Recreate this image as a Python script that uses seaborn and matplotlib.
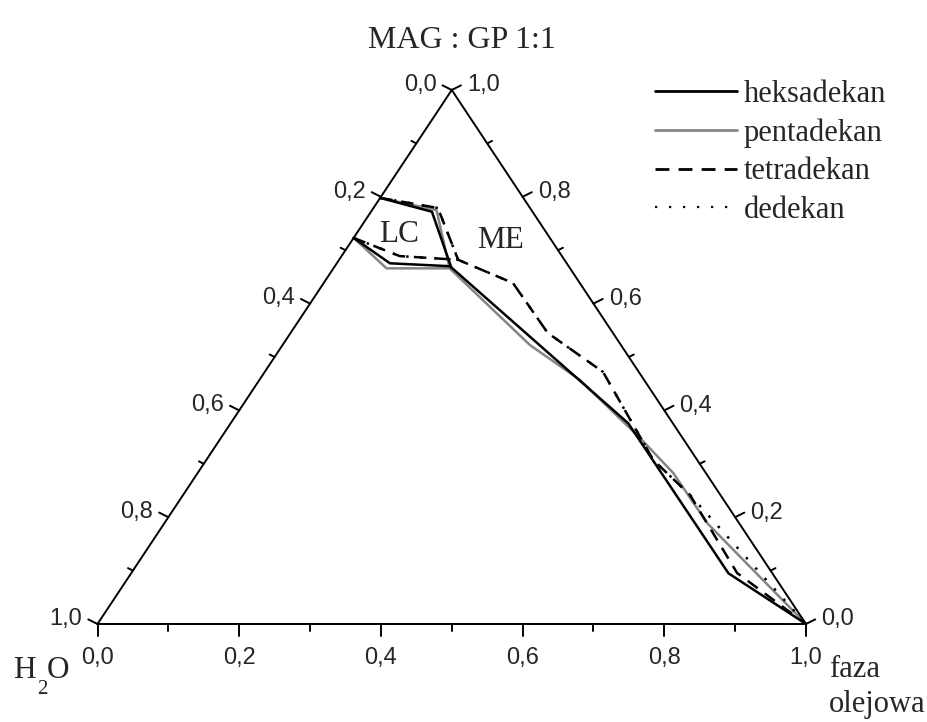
import numpy as np
import pandas as pd
import matplotlib
matplotlib.use("Agg")
import matplotlib.pyplot as plt
from matplotlib.lines import Line2D
import seaborn as sns

# ---------------- data (ternary: oil fraction, surfactant MAG:GP fraction; water = rest)
series_order = ["heksadekan", "pentadekan", "tetradekan", "dedekan"]

hex_lc_oil = [0.0, 0.086, 0.166]
hex_lc_surf = [0.798, 0.772, 0.667]
hex_me_oil = [0.0, 0.075, 0.1625, 0.561, 0.843, 1.0]
hex_me_surf = [0.723, 0.6755, 0.670, 0.376, 0.095, 0.0]

pen_lc_oil = [0.0, 0.091, 0.164]
pen_lc_surf = [0.798, 0.775, 0.666]
pen_me_oil = [0.0, 0.075, 0.164, 0.349, 0.4525, 0.592, 0.671, 0.766, 1.0]
pen_me_surf = [0.723, 0.666, 0.666, 0.5225, 0.457, 0.348, 0.283, 0.189, 0.0]

tet_lc_oil = [0.0, 0.091, 0.168]
tet_lc_surf = [0.798, 0.779, 0.682]
tet_me_oil = [0.0, 0.082, 0.168, 0.267, 0.363, 0.4775, 0.631, 0.7155, 0.855, 1.0]
tet_me_surf = [0.723, 0.689, 0.682, 0.6386, 0.545, 0.472, 0.307, 0.2416, 0.0955, 0.0]

ded_lc_oil = [0.0, 0.091, 0.168]
ded_lc_surf = [0.798, 0.779, 0.682]
ded_me_oil = [0.0, 0.082, 0.168, 0.267, 0.363, 0.4775, 0.631, 0.7155, 1.0]
ded_me_surf = [0.723, 0.689, 0.682, 0.6386, 0.545, 0.472, 0.307, 0.2416, 0.0]

tick_values = [0.0, 0.1, 0.2, 0.3, 0.4, 0.5, 0.6, 0.7, 0.8, 0.9, 1.0]
major_values = [0.0, 0.2, 0.4, 0.6, 0.8, 1.0]
major_labels = ["0,0", "0,2", "0,4", "0,6", "0,8", "1,0"]

title_text = "MAG : GP 1:1"

# ---------------- setup
sns.set_style("white")
plt.rcParams["font.family"] = ["Liberation Sans", "DejaVu Sans"]
SERIF = ["Liberation Serif", "DejaVu Serif"]

W, Hpx = 927, 722
fig = plt.figure(figsize=(W / 100, Hpx / 100), dpi=100)
ax = fig.add_axes([97.5 / W, 98 / Hpx, 708.5 / W, 534 / Hpx])
H = np.sqrt(3) / 2
LW = 1.8


def to_xy(oil, surf):
    oil = np.asarray(oil, float)
    surf = np.asarray(surf, float)
    return oil + surf / 2, surf * H


curves = {
    "heksadekan": [(hex_lc_oil, hex_lc_surf), (hex_me_oil, hex_me_surf)],
    "pentadekan": [(pen_lc_oil, pen_lc_surf), (pen_me_oil, pen_me_surf)],
    "tetradekan": [(tet_lc_oil, tet_lc_surf), (tet_me_oil, tet_me_surf)],
    "dedekan": [(ded_lc_oil, ded_lc_surf), (ded_me_oil, ded_me_surf)],
}
rows = []
for name, branches in curves.items():
    for bi, (o, s) in enumerate(branches):
        X, Y = to_xy(o, s)
        for k, (x, y) in enumerate(zip(X, Y)):
            rows.append({"seria": name, "odcinek": f"{name}-{bi}", "X": x, "Y": y, "k": k})
df = pd.DataFrame(rows)

palette = {"heksadekan": "black", "pentadekan": "#858585",
           "tetradekan": "black", "dedekan": "black"}
dash_map = {"heksadekan": "", "pentadekan": "", "tetradekan": (5, 3.5), "dedekan": (1, 4.6)}
draw_order = ["pentadekan", "heksadekan", "tetradekan", "dedekan"]

sns.lineplot(data=df, x="X", y="Y", hue="seria", style="seria", units="odcinek",
             estimator=None, sort=False, palette=palette, dashes=dash_map,
             hue_order=draw_order, style_order=draw_order, linewidth=LW,
             legend=False, ax=ax)
for ln in ax.lines:
    ln.set_clip_on(False)

# ---------------- triangle frame
ax.plot([0, 1, 0.5, 0], [0, 0, H, 0], color="black", lw=1.4, clip_on=False,
        solid_joinstyle="miter")

n_left = np.array([-np.sqrt(3) / 2, 0.5])
n_right = np.array([np.sqrt(3) / 2, 0.5])
Lmaj, Lmin = 0.015, 0.008
Bmaj, Bmin = 12 * H / 534, 7 * H / 534
pt = 0.72

for v in tick_values:
    is_major = any(abs(v - m) < 1e-9 for m in major_values)
    bl = Bmaj if is_major else Bmin
    ax.plot([v, v], [0, -bl], color="black", lw=1.4, clip_on=False)
    s = 1 - v
    p = np.array([s / 2, s * H])
    L = Lmaj if is_major else Lmin
    e = p + n_left * L
    ax.plot([p[0], e[0]], [p[1], e[1]], color="black", lw=1.4, clip_on=False)
    q = np.array([1 - v / 2, v * H])
    e2 = q + n_right * L
    ax.plot([q[0], e2[0]], [q[1], e2[1]], color="black", lw=1.4, clip_on=False)

TFS = 17
for v, lab in zip(major_values, major_labels):
    ax.annotate(lab, xy=(v, -Bmaj), xytext=(0, -28 * pt), textcoords="offset points",
                ha="center", va="baseline", fontsize=TFS, annotation_clip=False)
    s = 1 - v
    e = np.array([s / 2, s * H]) + n_left * Lmaj
    ax.annotate(lab, xy=tuple(e), xytext=(-6 * pt, -5.5 * pt), textcoords="offset points",
                ha="right", va="baseline", fontsize=TFS, annotation_clip=False)
    e2 = np.array([1 - v / 2, v * H]) + n_right * Lmaj
    ax.annotate(lab, xy=tuple(e2), xytext=(6 * pt, -6 * pt), textcoords="offset points",
                ha="left", va="baseline", fontsize=TFS, annotation_clip=False)

ax.set_xlim(0, 1)
ax.set_ylim(0, H)
ax.set_axis_off()

# ---------------- texts
def fy(y):
    return 1 - y / Hpx

fig.text(462 / W, fy(48), title_text, ha="center", va="baseline", fontsize=23, family=SERIF)
fig.text(399.3 / W, fy(241.7), "LC", ha="center", va="baseline", fontsize=22.5, family=SERIF)
fig.text(501 / W, fy(248.3), "ME", ha="center", va="baseline", fontsize=22.5, family=SERIF)
fig.text(12.7 / W, fy(678.3), "H", ha="left", va="baseline", fontsize=22.5, family=SERIF)
fig.text(36.7 / W, fy(694), "2", ha="left", va="baseline", fontsize=15, family=SERIF)
fig.text(46.7 / W, fy(678.3), "O", ha="left", va="baseline", fontsize=22.5, family=SERIF)
fig.text(829 / W, fy(676.7), "faza", ha="left", va="baseline", fontsize=22, family=SERIF)
fig.text(829 / W, fy(712), "olejowa", ha="left", va="baseline", fontsize=22, family=SERIF)

# ---------------- legend
handles = [
    Line2D([], [], color="black", lw=2.0),
    Line2D([], [], color="#858585", lw=2.0),
    Line2D([], [], color="black", lw=2.0, dashes=(5, 3.3)),
    Line2D([], [], color="black", lw=1.6, dashes=(1, 5.3)),
]
fig.legend(handles, series_order, loc="upper left", bbox_to_anchor=(655 / W, fy(80)),
           frameon=False, borderpad=0, borderaxespad=0, handlelength=2.68,
           handletextpad=0.23, labelspacing=0.31,
           prop={"family": SERIF, "size": 22})

fig.savefig("out.png", dpi=100)
